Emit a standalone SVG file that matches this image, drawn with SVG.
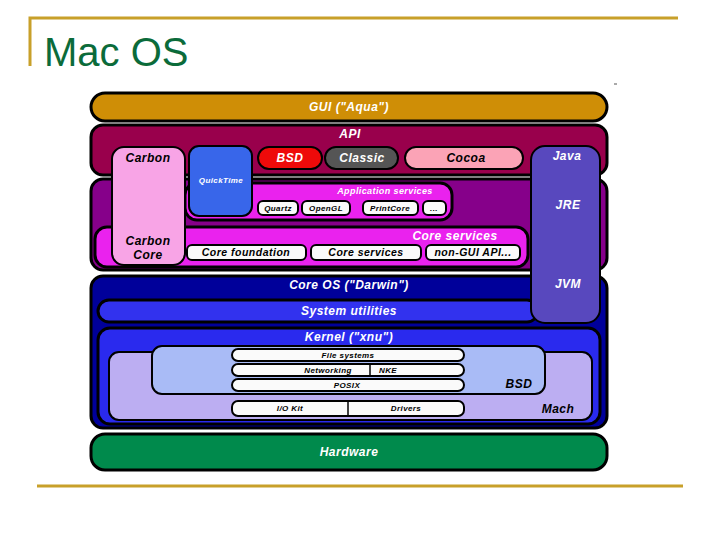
<svg xmlns="http://www.w3.org/2000/svg" width="720" height="540" viewBox="0 0 720 540">
<style>
.frame{stroke:#C8A02A;stroke-width:3;fill:none}
.title{font-family:"Liberation Sans",Arial,sans-serif;font-size:40px;fill:#0B6B3A}
.box{stroke:#000;stroke-width:3}
.thin{stroke:#000;stroke-width:2}
.lbl{font-family:"Liberation Sans",Arial,sans-serif;font-weight:bold;font-style:italic;text-anchor:middle}
.w{fill:#fff}
.k{fill:#000}
.s11{font-size:12px;letter-spacing:0.5px}
.s10{font-size:10.5px;letter-spacing:0.5px}
.s8{font-size:9px;letter-spacing:0.4px}
.s7{font-size:8px;letter-spacing:0.4px}
.pill{fill:#fafafa;stroke:#000;stroke-width:2}
</style>
<rect width="720" height="540" fill="#fff"/>
<g id="frame">
<polyline class="frame" points="30,66 30,18 678,18"/>
<line class="frame" x1="37" y1="486" x2="683" y2="486"/>
<line x1="614" y1="84" x2="617" y2="84" stroke="#555" stroke-width="1"/>
</g>
<text class="title" x="44" y="66">Mac OS</text>

<g id="gui"><rect class="box" x="91" y="93" width="516" height="28" rx="14" fill="#CF8E06"/>
<text class="lbl w s11" x="349" y="111">GUI ("Aqua")</text></g>

<g id="api"><rect class="box" x="91" y="125" width="516" height="50" rx="12" fill="#99004C"/>
<text class="lbl w s11" x="350" y="138">API</text></g>

<g id="services-layer"><rect class="box" x="91" y="179" width="516" height="91" rx="12" fill="#86008A"/></g>

<g id="application-services"><rect class="box" x="185" y="183" width="267" height="37" rx="12" fill="#EA22EE"/>
<text class="lbl w s8" x="385" y="194">Application services</text></g>
<g id="quartz"><rect class="pill" x="258" y="201" width="40" height="14" rx="5"/><text class="lbl k s7" x="278" y="211">Quartz</text></g>
<g id="opengl"><rect class="pill" x="302" y="201" width="48" height="14" rx="5"/><text class="lbl k s7" x="326" y="211">OpenGL</text></g>
<g id="printcore"><rect class="pill" x="363" y="201" width="55" height="14" rx="5"/><text class="lbl k s7" x="390" y="211">PrintCore</text></g>
<g id="more"><rect class="pill" x="423" y="201" width="23" height="14" rx="5"/><text class="lbl k s7" x="434" y="211">...</text></g>

<g id="core-services"><rect class="box" x="95" y="227" width="433" height="40" rx="12" fill="#EA22EE"/>
<text class="lbl w s11" x="455" y="240">Core services</text></g>
<g id="core-foundation"><rect class="pill" x="187" y="245" width="119" height="15" rx="5"/><text class="lbl k s10" x="246" y="256">Core foundation</text></g>
<g id="core-services-api"><rect class="pill" x="311" y="245" width="110" height="15" rx="5"/><text class="lbl k s10" x="366" y="256">Core services</text></g>
<g id="non-gui-api"><rect class="pill" x="426" y="245" width="94" height="15" rx="5"/><text class="lbl k s10" x="473" y="256">non-GUI API...</text></g>

<g id="carbon"><rect class="thin" x="112" y="147" width="73" height="118" rx="12" fill="#F8A4E6"/>
<text class="lbl k s11" x="148" y="162">Carbon</text>
<text class="lbl k s11" x="148" y="245">Carbon</text>
<text class="lbl k s11" x="148" y="259">Core</text></g>

<g id="quicktime"><rect class="thin" x="189" y="146" width="63" height="70" rx="10" fill="#3866EA"/>
<text class="lbl w s7" x="221" y="183">QuickTime</text></g>

<g id="bsd-api"><rect class="thin" x="258" y="147" width="64" height="22" rx="11" fill="#EE0A0A"/>
<text class="lbl w s11" x="290" y="162">BSD</text></g>
<g id="classic"><rect class="thin" x="325" y="147" width="73" height="22" rx="11" fill="#555555"/>
<text class="lbl w s11" x="362" y="162">Classic</text></g>
<g id="cocoa"><rect class="thin" x="405" y="147" width="118" height="22" rx="11" fill="#FBA3B6"/>
<text class="lbl k s11" x="466" y="162">Cocoa</text></g>

<g id="core-os"><rect class="box" x="91" y="276" width="516" height="152" rx="12" fill="#00009A"/>
<text class="lbl w s11" x="349" y="289">Core OS ("Darwin")</text></g>

<g id="system-utilities"><rect class="box" x="98" y="300" width="440" height="22" rx="11" fill="#3232EE"/>
<text class="lbl w s11" x="349" y="315">System utilities</text></g>

<g id="java"><rect class="thin" x="531" y="146" width="69" height="177" rx="14" fill="#5848BE"/>
<text class="lbl w s11" x="567" y="160">Java</text>
<text class="lbl w s11" x="568" y="209">JRE</text>
<text class="lbl w s11" x="568" y="288">JVM</text></g>

<g id="kernel"><rect class="box" x="98" y="328" width="502" height="96" rx="12" fill="#2A2AEE"/>
<text class="lbl w s11" x="349" y="341">Kernel ("xnu")</text></g>

<g id="mach"><rect class="thin" x="109" y="352" width="483" height="68" rx="10" fill="#BCAEF2"/>
<text class="lbl k s11" x="558" y="413">Mach</text></g>

<g id="bsd-kernel"><rect class="thin" x="152" y="346" width="393" height="48" rx="10" fill="#A9BBF6"/>
<text class="lbl k s11" x="519" y="388">BSD</text></g>

<g id="file-systems"><rect class="pill" x="232" y="349" width="232" height="12" rx="6"/><text class="lbl k s7" x="348" y="358">File systems</text></g>
<g id="networking"><rect class="pill" x="232" y="364" width="232" height="12" rx="6"/><line x1="370" y1="364" x2="370" y2="376" stroke="#000" stroke-width="1.5"/>
<text class="lbl k s7" x="328" y="373">Networking</text><text class="lbl k s7" x="388" y="373">NKE</text></g>
<g id="posix"><rect class="pill" x="232" y="379" width="232" height="12" rx="6"/><text class="lbl k s7" x="347" y="388">POSIX</text></g>
<g id="iokit"><rect class="pill" x="232" y="401" width="232" height="15" rx="6"/><line x1="348" y1="401" x2="348" y2="416" stroke="#000" stroke-width="1.5"/>
<text class="lbl k s7" x="290" y="411">I/O Kit</text><text class="lbl k s7" x="406" y="411">Drivers</text></g>

<g id="hardware"><rect class="box" x="91" y="434" width="516" height="36" rx="14" fill="#008A4C"/>
<text class="lbl w s11" x="349" y="456">Hardware</text></g>

<g id="connectors"></g>
</svg>
